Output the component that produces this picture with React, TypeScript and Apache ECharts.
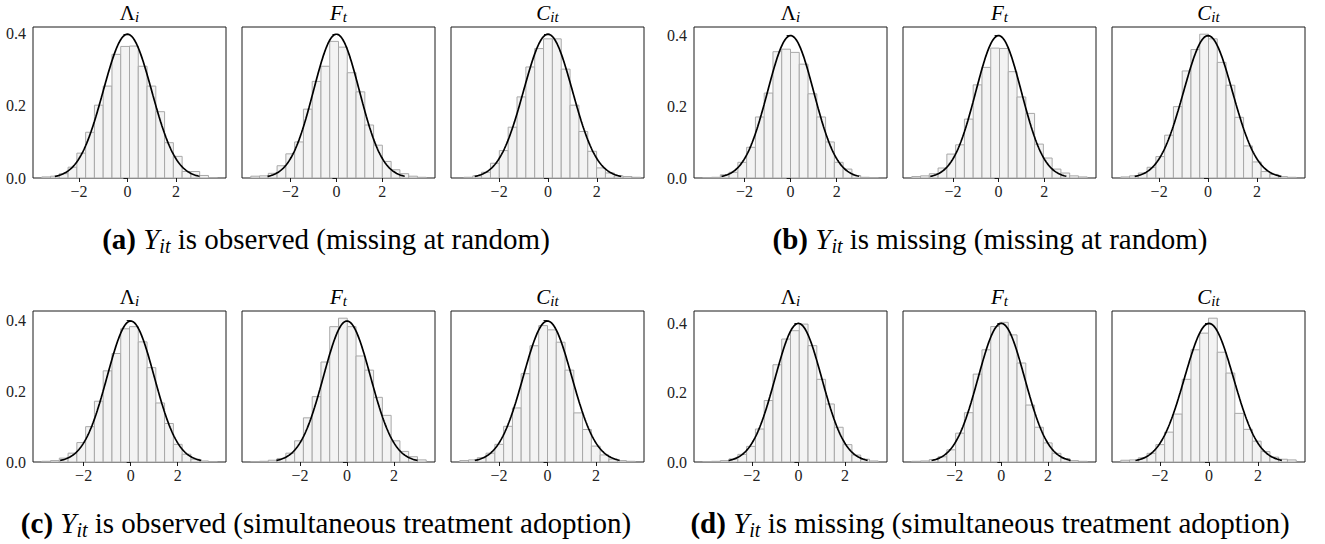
import React, { useEffect, useRef } from "react";
import * as echarts from "echarts";

const SERIF = "Liberation Serif";

// ---------- data (histogram densities, 20 bins per panel) ----------
// (a) Y_it observed, missing at random
const hA_Lambda = [0.003, 0.005, 0.012, 0.03, 0.069, 0.127, 0.202, 0.255, 0.343, 0.365, 0.366, 0.31, 0.255, 0.184, 0.098, 0.06, 0.018, 0.018, 0.007, 0.001];
const hA_F = [0.005, 0.006, 0.013, 0.034, 0.067, 0.1, 0.191, 0.268, 0.31, 0.379, 0.363, 0.292, 0.239, 0.147, 0.091, 0.046, 0.023, 0.012, 0.005, 0.002];
const hA_C = [0.002, 0.006, 0.016, 0.041, 0.076, 0.141, 0.225, 0.308, 0.359, 0.386, 0.386, 0.302, 0.202, 0.129, 0.074, 0.028, 0.014, 0.006, 0.004, 0.002];
// (b) Y_it missing, missing at random
const hB_Lambda = [0.001, 0.002, 0.009, 0.016, 0.044, 0.086, 0.171, 0.238, 0.354, 0.361, 0.352, 0.319, 0.236, 0.171, 0.101, 0.044, 0.025, 0.007, 0.002, 0.001];
const hB_F = [0.004, 0.006, 0.012, 0.028, 0.067, 0.093, 0.165, 0.261, 0.31, 0.364, 0.363, 0.298, 0.227, 0.181, 0.095, 0.056, 0.025, 0.014, 0.006, 0.003];
const hB_C = [0.003, 0.006, 0.014, 0.03, 0.06, 0.12, 0.2, 0.3, 0.36, 0.403, 0.39, 0.324, 0.26, 0.17, 0.09, 0.045, 0.018, 0.01, 0.004, 0.002];
// (c) Y_it observed, simultaneous treatment adoption
const hC_Lambda = [0.002, 0.004, 0.011, 0.025, 0.055, 0.1, 0.172, 0.258, 0.307, 0.377, 0.383, 0.34, 0.267, 0.167, 0.109, 0.05, 0.022, 0.008, 0.003, 0.001];
const hC_F = [0.001, 0.002, 0.005, 0.01, 0.025, 0.06, 0.125, 0.185, 0.283, 0.383, 0.407, 0.383, 0.3, 0.26, 0.183, 0.132, 0.06, 0.03, 0.015, 0.006];
const hC_C = [0.004, 0.006, 0.012, 0.025, 0.05, 0.101, 0.153, 0.25, 0.329, 0.386, 0.374, 0.339, 0.26, 0.139, 0.092, 0.045, 0.02, 0.008, 0.004, 0.002];
// (d) Y_it missing, simultaneous treatment adoption
const hD_Lambda = [0.001, 0.002, 0.004, 0.009, 0.022, 0.045, 0.095, 0.177, 0.28, 0.354, 0.378, 0.397, 0.335, 0.238, 0.167, 0.1, 0.05, 0.02, 0.008, 0.003];
const hD_F = [0.002, 0.003, 0.007, 0.015, 0.035, 0.083, 0.142, 0.253, 0.323, 0.39, 0.402, 0.366, 0.285, 0.164, 0.1, 0.055, 0.025, 0.01, 0.004, 0.002];
const hD_C = [0.005, 0.006, 0.012, 0.025, 0.05, 0.086, 0.138, 0.238, 0.323, 0.371, 0.414, 0.316, 0.256, 0.14, 0.094, 0.06, 0.03, 0.014, 0.008, 0.006];

const panelHeights = [hA_Lambda, hA_F, hA_C, hB_Lambda, hB_F, hB_C, hC_Lambda, hC_F, hC_C, hD_Lambda, hD_F, hD_C];
// left edge of the first bin and bin width, per panel
const binStart = [-3.54, -3.73, -3.44, -3.81, -3.81, -3.57, -3.78, -4.09, -3.62, -4.11, -3.85, -3.6];
const binWidth = [0.3624, 0.382, 0.362, 0.3805, 0.385, 0.359, 0.373, 0.373, 0.362, 0.377, 0.377, 0.358];
// x-axis limits read directly where they differ from the automatic 5% margin (null = automatic)
const xLimMin: (number | null)[] = [null, null, -3.97, null, null, null, null, null, null, null, null, null];
const xLimMax: (number | null)[] = [null, null, 3.93, null, null, null, null, null, null, null, null, null];

// panel titles
const titleMain = ["Λ", "F", "C"];
const titleMainItalic = [false, true, true];
const titleSub = ["i", "t", "it"];

// captions
const captionLabels = ["(a)", "(b)", "(c)", "(d)"];
const captionTexts = [
  " is observed (missing at random)",
  " is missing (missing at random)",
  " is observed (simultaneous treatment adoption)",
  " is missing (simultaneous treatment adoption)",
];

// tick values
const xTickValues = [-2, 0, 2];
const yTickValues = [0, 0.2, 0.4];

// overlaid standard normal density, drawn on [-3, 3] as in the reference
const CURVE_FROM = -3;
const CURVE_TO = 3;
const CURVE_STEPS = 240;
const normalPdf = (x: number) => Math.exp(-0.5 * x * x) / Math.sqrt(2 * Math.PI);

// ---------- layout ----------
const PANEL_LEFT = [33, 242, 451, 694, 903, 1112];
const PANEL_W = 193;
const PANEL_H = 151;
const ROW_TOP = [27, 311];
const CAPTION_X = [326, 990];
const CAPTION_Y = [240, 524];

const tickRich = { t: { fontFamily: SERIF, fontSize: 16, color: "#222" } };

export default function App() {
  const ref = useRef<HTMLDivElement>(null);

  useEffect(() => {
    if (!ref.current) return;
    const chart = echarts.init(ref.current, undefined, { renderer: "svg" });

    const curve: number[][] = [];
    for (let k = 0; k <= CURVE_STEPS; k++) {
      const x = CURVE_FROM + ((CURVE_TO - CURVE_FROM) * k) / CURVE_STEPS;
      curve.push([x, normalPdf(x)]);
    }

    const grids: any[] = [];
    const xAxes: any[] = [];
    const yAxes: any[] = [];
    const series: any[] = [];
    const graphics: any[] = [];

    // y max per group (shared y within a subfigure), matplotlib-like 5% margin
    const groupYMax: number[] = [];
    for (let g = 0; g < 4; g++) {
      let m = normalPdf(0);
      for (let c = 0; c < 3; c++) m = Math.max(m, ...panelHeights[g * 3 + c]);
      groupYMax.push(m * 1.05);
    }

    for (let p = 0; p < 12; p++) {
      const g = Math.floor(p / 3);
      const c = p % 3;
      const row = Math.floor(g / 2);
      const colPos = (g % 2) * 3 + c;
      const left = PANEL_LEFT[colPos];
      const top = ROW_TOP[row];
      const hs = panelHeights[p];
      const w = binWidth[p];
      const s0 = binStart[p];
      const s1 = s0 + w * hs.length;
      const lo = Math.min(s0, CURVE_FROM);
      const hi = Math.max(s1, CURVE_TO);
      const pad = 0.05 * (hi - lo);
      const xmin = xLimMin[p] ?? lo - pad;
      const xmax = xLimMax[p] ?? hi + pad;

      grids.push({
        left,
        top,
        width: PANEL_W,
        height: PANEL_H,
        show: true,
        borderColor: "#1a1a1a",
        borderWidth: 1,
        backgroundColor: "transparent",
      });
      xAxes.push({
        type: "value",
        gridIndex: p,
        min: xmin,
        max: xmax,
        axisLine: { show: false },
        splitLine: { show: false },
        axisTick: {
          show: true,
          customValues: xTickValues,
          length: 4,
          lineStyle: { color: "#1a1a1a", width: 1 },
        },
        axisLabel: {
          show: true,
          customValues: xTickValues,
          margin: 5,
          fontFamily: SERIF,
          fontSize: 16,
          color: "#222",
          rich: tickRich,
          formatter: (v: number) => "{t|" + (v < 0 ? "\u2212" + Math.abs(v) : String(v)) + "}",
        },
      });
      yAxes.push({
        type: "value",
        gridIndex: p,
        min: 0,
        max: groupYMax[g],
        axisLine: { show: false },
        splitLine: { show: false },
        axisTick: {
          show: true,
          customValues: yTickValues,
          length: 4,
          lineStyle: { color: "#1a1a1a", width: 1 },
        },
        axisLabel: {
          show: c === 0,
          customValues: yTickValues,
          margin: 7,
          fontFamily: SERIF,
          fontSize: 16,
          color: "#222",
          rich: tickRich,
          formatter: (v: number) => "{t|" + v.toFixed(1) + "}",
        },
      });

      const bins = hs.map((h, k) => [s0 + k * w, s0 + (k + 1) * w, h]);
      series.push({
        type: "custom",
        xAxisIndex: p,
        yAxisIndex: p,
        clip: true,
        data: bins,
        encode: { x: [0, 1], y: 2 },
        renderItem: (_params: any, api: any) => {
          const a = api.coord([api.value(0), api.value(2)]);
          const b = api.coord([api.value(1), 0]);
          return {
            type: "rect",
            shape: { x: a[0], y: a[1], width: b[0] - a[0], height: b[1] - a[1] },
            style: { fill: "#f3f3f3", stroke: "#a8a8a8", lineWidth: 1 },
          };
        },
        z: 1,
      });
      series.push({
        type: "line",
        xAxisIndex: p,
        yAxisIndex: p,
        data: curve,
        showSymbol: false,
        symbol: "none",
        lineStyle: { color: "#000", width: 1.7 },
        z: 3,
      });

      // panel title
      const mainStyle = titleMainItalic[c] ? "mi" : "m";
      graphics.push({
        type: "text",
        x: left + PANEL_W / 2,
        y: top - 14,
        style: {
          text: `{${mainStyle}|${titleMain[c]}}{s|${titleSub[c]}}`,
          align: "center",
          verticalAlign: "middle",
          rich: {
            m: { fontFamily: SERIF, fontSize: 21, lineHeight: 22, verticalAlign: "top", fill: "#000" },
            mi: { fontFamily: SERIF, fontSize: 21, fontStyle: "italic", lineHeight: 22, verticalAlign: "top", fill: "#000" },
            s: { fontFamily: SERIF, fontSize: 15, fontStyle: "italic", lineHeight: 10, verticalAlign: "bottom", fill: "#000" },
          },
        },
      });
    }

    // captions
    for (let g = 0; g < 4; g++) {
      graphics.push({
        type: "text",
        x: CAPTION_X[g % 2],
        y: CAPTION_Y[Math.floor(g / 2)],
        style: {
          text: `{b|${captionLabels[g]} }{i|Y}{s|it}{r|${captionTexts[g]}}`,
          align: "center",
          verticalAlign: "middle",
          rich: {
            b: { fontFamily: SERIF, fontSize: 29, fontWeight: "bold", lineHeight: 32, verticalAlign: "top", fill: "#000" },
            i: { fontFamily: SERIF, fontSize: 29, fontStyle: "italic", lineHeight: 32, verticalAlign: "top", fill: "#000" },
            s: { fontFamily: SERIF, fontSize: 20, fontStyle: "italic", lineHeight: 16, verticalAlign: "bottom", fill: "#000" },
            r: { fontFamily: SERIF, fontSize: 29, lineHeight: 32, verticalAlign: "top", fill: "#000" },
          },
        },
      });
    }

    chart.setOption({
      animation: false,
      backgroundColor: "#ffffff",
      textStyle: { fontFamily: SERIF },
      grid: grids,
      xAxis: xAxes,
      yAxis: yAxes,
      series,
      graphic: { elements: graphics },
    });

    return () => chart.dispose();
  }, []);

  return (
    <div
      ref={ref}
      style={{ position: "fixed", left: 0, top: 0, width: 1325, height: 544, background: "#fff" }}
    />
  );
}
